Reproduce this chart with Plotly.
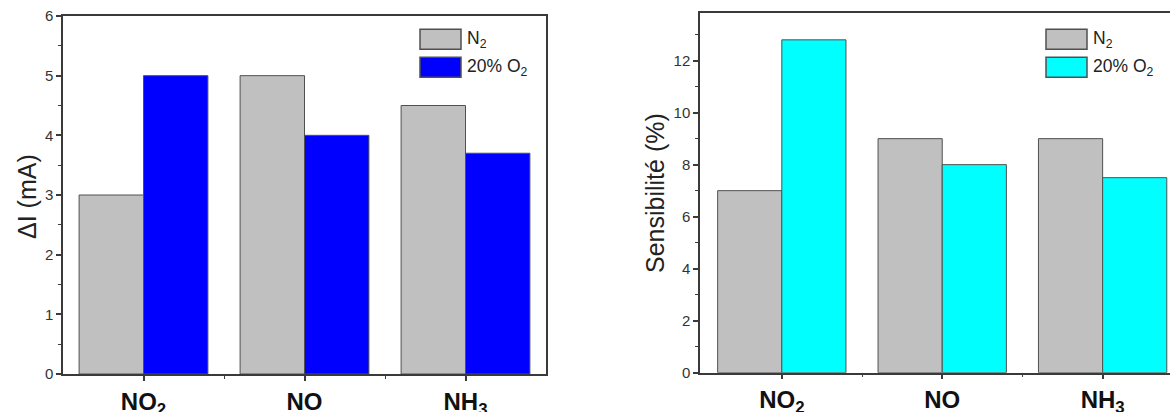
import plotly.graph_objects as go

categories = ["NO<sub>2</sub>", "NO", "NH<sub>3</sub>"]
series_names = ["N<sub>2</sub>", "20% O<sub>2</sub>"]
delta_i_n2 = [3.0, 5.0, 4.5]
delta_i_o2 = [5.0, 4.0, 3.7]
sens_n2 = [7.0, 9.0, 9.0]
sens_o2 = [12.8, 8.0, 7.5]
left_y_ticks = [0, 1, 2, 3, 4, 5, 6]
right_y_ticks = [0, 2, 4, 6, 8, 10, 12]

W, H = 1170, 412
GRAY = "#C0C0C0"
BLUE = "#0000FF"
CYAN = "#00FFFF"
EDGE = "#505050"
AXC = "#3a3a3a"
FONT = "Liberation Sans, Arial, sans-serif"

xpos = list(range(len(categories)))

fig = go.Figure()
fig.add_trace(go.Bar(x=xpos, y=delta_i_n2, name=series_names[0], marker=dict(color=GRAY, line=dict(color=EDGE, width=1)),
                     xaxis="x", yaxis="y", offsetgroup="a", showlegend=False))
fig.add_trace(go.Bar(x=xpos, y=delta_i_o2, name=series_names[1], marker=dict(color=BLUE, line=dict(color=EDGE, width=1)),
                     xaxis="x", yaxis="y", offsetgroup="b", showlegend=False))
fig.add_trace(go.Bar(x=xpos, y=sens_n2, name=series_names[0], marker=dict(color=GRAY, line=dict(color=EDGE, width=1)),
                     xaxis="x2", yaxis="y2", offsetgroup="a", showlegend=False))
fig.add_trace(go.Bar(x=xpos, y=sens_o2, name=series_names[1], marker=dict(color=CYAN, line=dict(color=EDGE, width=1)),
                     xaxis="x2", yaxis="y2", offsetgroup="b", showlegend=False))

def xaxis_cfg(domain, rng, anchor):
    return dict(domain=domain, range=rng, anchor=anchor, tickmode="array", tickvals=xpos, ticktext=categories,
                showline=True, linecolor=AXC, linewidth=1.5, mirror=True, ticks="outside", ticklen=5,
                tickcolor=AXC, tickwidth=1.5, showgrid=False, zeroline=False, automargin=False,
                tickfont=dict(family=FONT, size=24, color="#111", weight="bold"),
                minor=dict(tickvals=[0.5, 1.5], ticks="outside", ticklen=3, tickcolor=AXC, tickwidth=1.2, showgrid=False),
                fixedrange=True)

def yaxis_cfg(domain, rng, anchor, tickvals, minor_dtick, mirror):
    return dict(domain=domain, range=rng, anchor=anchor, tickmode="array", tickvals=tickvals,
                showline=True, linecolor=AXC, linewidth=1.5, mirror=mirror, ticks="outside", ticklen=5,
                tickcolor=AXC, tickwidth=1.5, showgrid=False, zeroline=False, automargin=False,
                tickfont=dict(family=FONT, size=15, color="#333"),
                minor=dict(dtick=minor_dtick, tick0=0, ticks="outside", ticklen=3, tickcolor=AXC, tickwidth=1.2, showgrid=False),
                fixedrange=True)

fig.update_layout(
    width=W, height=H, margin=dict(l=0, r=0, t=0, b=0),
    paper_bgcolor="white", plot_bgcolor="white",
    barmode="group", bargap=0.2, bargroupgap=0,
    xaxis=xaxis_cfg([63 / W, 546 / W], [-0.5, 2.5], "y"),
    yaxis=yaxis_cfg([1 - 374 / H, 1 - 16 / H], [0, 6], "x", left_y_ticks, 0.5, True),
    xaxis2=xaxis_cfg([700 / W, 1.0], [-0.51, 2.42], "y2"),
    yaxis2=yaxis_cfg([1 - 372.7 / H, 1 - 13.3 / H], [0, 13.82], "x2", right_y_ticks, 1, False),
    font=dict(family=FONT),
)

# axis titles
fig.add_annotation(x=27 / W, y=1 - 197 / H, xref="paper", yref="paper", text="ΔI (mA)", textangle=-90,
                   xanchor="center", yanchor="middle",
                   showarrow=False, font=dict(family=FONT, size=25, color="#222"))
fig.add_annotation(x=655 / W, y=1 - 193 / H, xref="paper", yref="paper", text="Sensibilité (%)", textangle=-90,
                   xanchor="center", yanchor="middle",
                   showarrow=False, font=dict(family=FONT, size=25, color="#222"))

# legends (swatches + labels)
def legend(x0, x1, colors):
    rows = [(29.3, 49.3), (57.3, 77.3)]
    for (y0, y1), col, name in zip(rows, colors, series_names):
        fig.add_shape(type="rect", xref="paper", yref="paper", x0=x0 / W, x1=x1 / W, y0=1 - y1 / H, y1=1 - y0 / H,
                      fillcolor=col, line=dict(color=EDGE, width=1.5))
        fig.add_annotation(x=(x1 + 4) / W, y=1 - ((y0 + y1) / 2) / H, xref="paper", yref="paper", text=name,
                           showarrow=False, xanchor="left", yanchor="middle",
                           font=dict(family=FONT, size=17.5, color="#222"))

legend(420, 461, [GRAY, BLUE])
legend(1046, 1087, [GRAY, CYAN])

fig.write_html("out.html", config={"displayModeBar": False},
               post_script="document.body.style.margin='0';document.body.style.overflow='hidden';")
